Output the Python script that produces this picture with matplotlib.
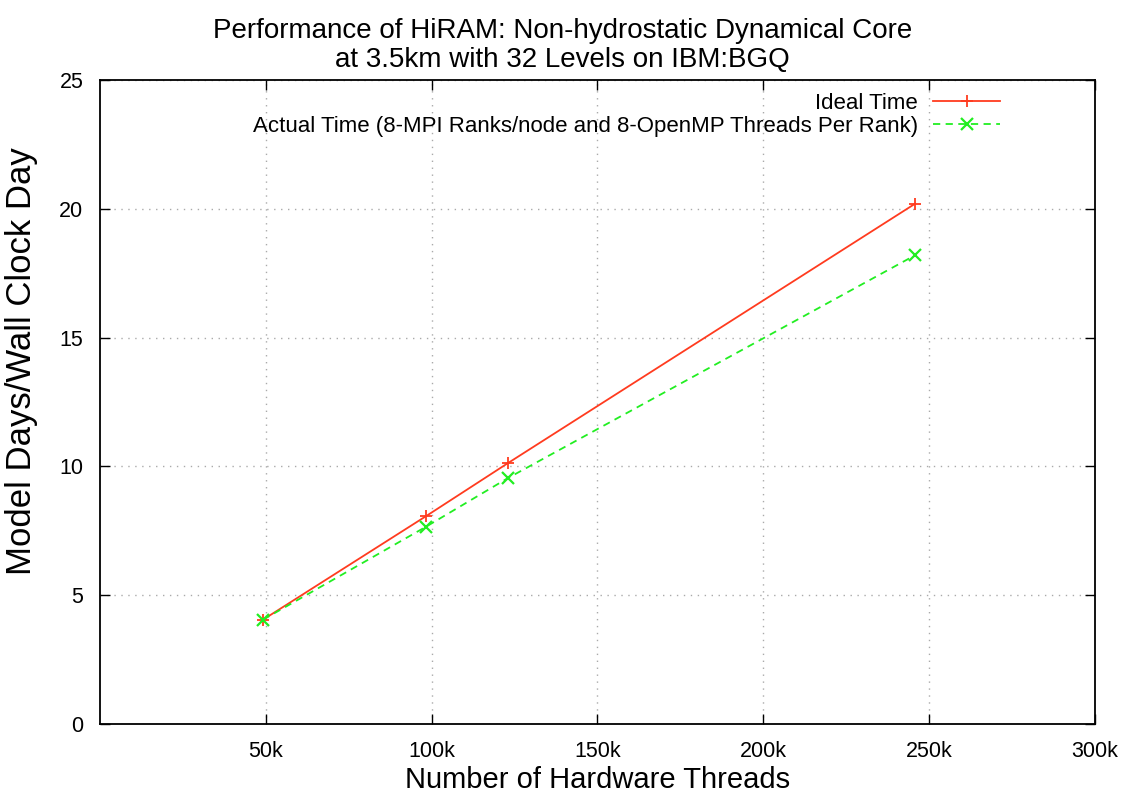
import matplotlib.pyplot as plt
from matplotlib.ticker import FuncFormatter

plt.rcParams['font.family'] = ['Liberation Sans', 'DejaVu Sans']

# Data
threads = [49152, 98304, 122880, 245760]
ideal_time = [4.05, 8.07, 10.12, 20.2]
actual_time = [4.05, 7.66, 9.54, 18.2]

x_ticks = [50000, 100000, 150000, 200000, 250000, 300000]
y_ticks = [0, 5, 10, 15, 20, 25]

fig = plt.figure(figsize=(11.25, 7.93), dpi=100)
ax = fig.add_axes([0.0889, 0.087, 0.8844, 0.812])

ax.plot(threads, ideal_time, color="#ff3b1f", linestyle="-", linewidth=1.3,
        marker="+", markersize=9, markeredgewidth=1.3, label="Ideal Time")
ax.plot(threads, actual_time, color="#22ee22", linestyle="--", linewidth=1.3,
        dashes=(4, 3), marker="x", markersize=8, markeredgewidth=1.6,
        label="Actual Time (8-MPI Ranks/node and 8-OpenMP Threads Per Rank)")

ax.set_xlim(0, 300000)
ax.set_ylim(0, 25)
ax.set_xticks(x_ticks)
ax.set_yticks(y_ticks)
ax.xaxis.set_major_formatter(FuncFormatter(lambda v, p: "%dk" % (v / 1000)))

ax.tick_params(direction="in", top=True, right=True, length=7, width=1,
               labelsize=15.5, colors="black", pad=12)
ax.grid(True, linestyle=(0, (1, 4)), color="#aaaaaa", linewidth=1)
for s in ax.spines.values():
    s.set_linewidth(1.3)

ax.set_xlabel("Number of Hardware Threads", fontsize=21, labelpad=3)
ax.set_ylabel("Model Days/Wall Clock Day", fontsize=25)
ax.yaxis.set_label_coords(-0.062, 0.564)
fig.text(0.5, 1 - 45 / 793,
         "Performance of HiRAM: Non-hydrostatic Dynamical Core\nat 3.5km with 32 Levels on IBM:BGQ",
         fontsize=20, linespacing=1.15, ha="center", va="center")

leg = ax.legend(loc="upper right", frameon=False, markerfirst=False, fontsize=16,
                handlelength=3.0, handletextpad=0.7, labelspacing=0.1,
                borderaxespad=0, borderpad=0,
                bbox_to_anchor=(1000 / 1125, 1 - 93 / 793),
                bbox_transform=fig.transFigure)
for t in leg.get_texts():
    t.set_ha("right")

fig.savefig("out.png", dpi=100)
